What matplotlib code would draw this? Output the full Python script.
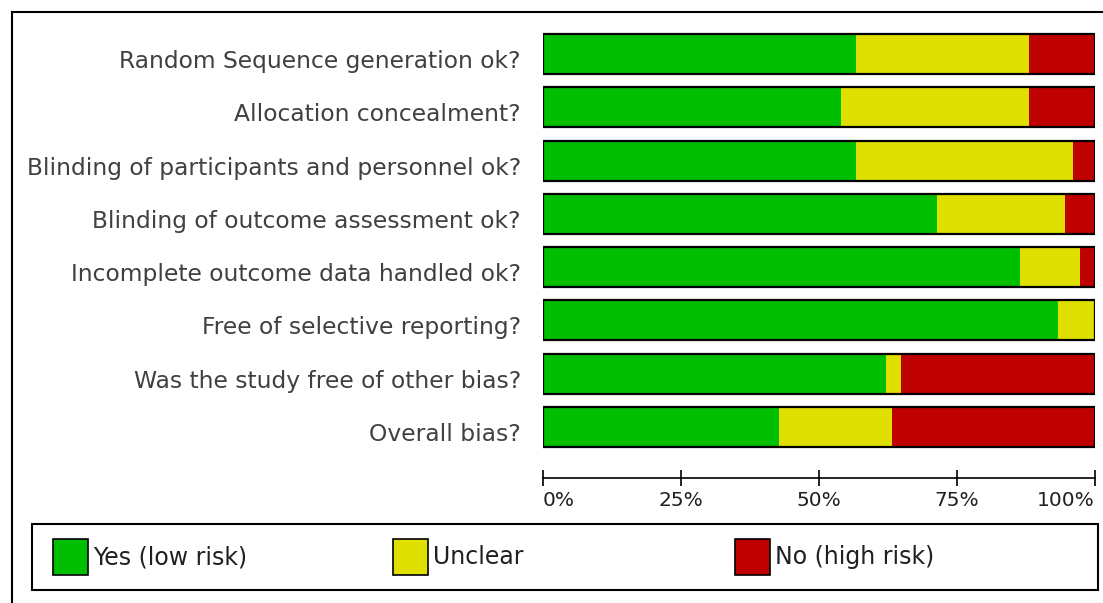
import matplotlib.pyplot as plt
import matplotlib.patches as mpatches
import matplotlib.transforms as mtransforms
from matplotlib.lines import Line2D

# risk of bias summary, percent of studies per domain
domains = ["Random Sequence generation ok?",
           "Allocation concealment?",
           "Blinding of participants and personnel ok?",
           "Blinding of outcome assessment ok?",
           "Incomplete outcome data handled ok?",
           "Free of selective reporting?",
           "Was the study free of other bias?",
           "Overall bias?"]
low_risk = [56.7, 54.0, 56.7, 71.4, 86.4, 93.3, 62.1, 42.8]
unclear = [31.3, 34.0, 39.3, 23.2, 10.9, 6.7, 2.8, 20.4]
high_risk = [12.0, 12.0, 4.0, 5.4, 2.7, 0.0, 35.1, 36.8]

series_labels = ["Yes (low risk)", "Unclear", "No (high risk)"]
colors = ["#00bf00", "#e0e000", "#bf0000"]
tick_vals = [0, 25, 50, 75, 100]
tick_text = ["0%", "25%", "50%", "75%", "100%"]

W, H = 1103, 603
fig = plt.figure(figsize=(W / 100, H / 100), dpi=100)

def fx(px):
    return px / W

def fy(py):
    return 1 - py / H

# outer frame (top and left edge)
fig.add_artist(Line2D([fx(12), 1], [fy(12), fy(12)], color="black", lw=1.5))
fig.add_artist(Line2D([fx(12), fx(12)], [fy(12), 0], color="black", lw=1.5))

ax = fig.add_axes([fx(543), fy(478), fx(1095) - fx(543), (478 - 27.3) / H])
ypos = list(range(len(domains)))
left = [0] * len(domains)
for vals, col in zip([low_risk, unclear, high_risk], colors):
    ax.barh(ypos, vals, left=left, height=0.75, color=col, edgecolor="none")
    left = [a + b for a, b in zip(left, vals)]
ax.barh(ypos, left, height=0.75, fill=False, edgecolor="black", lw=1.6)

ax.set_xlim(0, 100)
ax.set_ylim(7.955, -0.5)
ax.set_yticks(ypos)
ax.set_yticklabels(domains, fontsize=16.8, color="#404040")
ax.tick_params(axis="y", length=0, pad=16)
# labels sit a little below the bar centre in the original
shift = mtransforms.ScaledTranslation(0, -5 / 100, fig.dpi_scale_trans)
for lab in ax.get_yticklabels():
    lab.set_transform(lab.get_transform() + shift)

ax.set_xticks(tick_vals)
ax.set_xticklabels(tick_text, fontsize=14.5, color="#202020")
ax.tick_params(axis="x", direction="inout", length=12, width=1.2, pad=3)
for lab, ha in zip(ax.get_xticklabels(), ["left", "center", "center", "center", "right"]):
    lab.set_ha(ha)
for s in ["left", "right", "top"]:
    ax.spines[s].set_visible(False)
ax.spines["bottom"].set_linewidth(1.2)

# legend box drawn by hand
fig.add_artist(mpatches.Rectangle((fx(32), fy(590)), fx(1098) - fx(32), (590 - 524) / H,
                                  fill=False, edgecolor="black", lw=1.5))
for px, lab, col in zip([53, 393, 735], series_labels, colors):
    fig.add_artist(mpatches.Rectangle((fx(px), fy(575)), fx(35), 36 / H,
                                      facecolor=col, edgecolor="black", lw=1.2))
    fig.text(fx(px + 40), fy(557), lab, fontsize=17, color="#202020", va="center")

fig.savefig("out.png", dpi=100)
